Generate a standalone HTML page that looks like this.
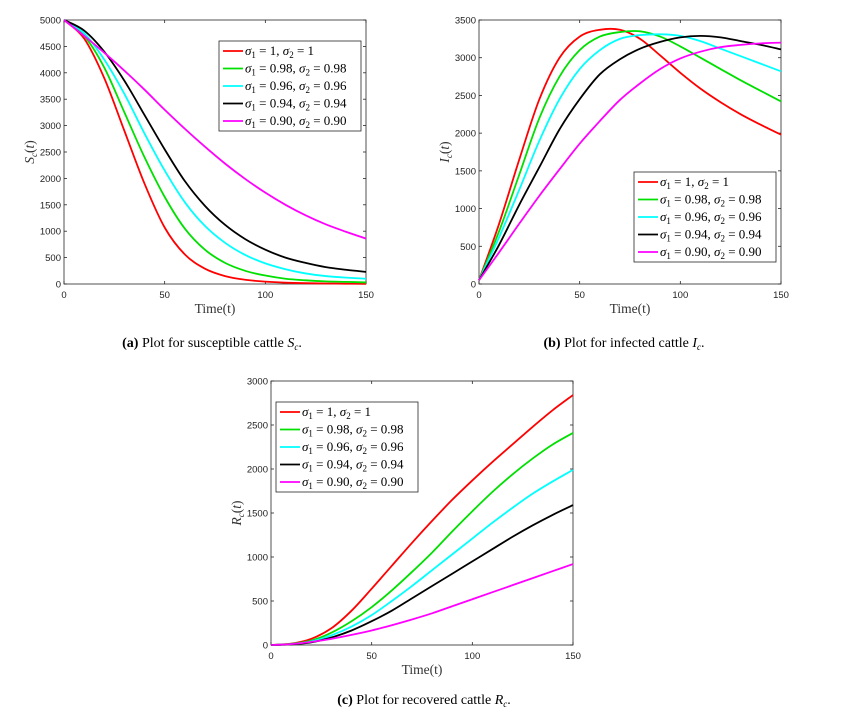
<!DOCTYPE html>
<html><head><meta charset="utf-8"><style>
body{margin:0;background:#fff;width:850px;height:720px;overflow:hidden}
svg{display:block}
.tk{font-family:"Liberation Sans",sans-serif;font-size:9.5px;fill:#222}
.lg{font-family:"Liberation Serif",serif;font-size:13px;fill:#000}
.cap{font-family:"Liberation Serif",serif;font-size:14px;fill:#000}
.ax{font-family:"Liberation Serif",serif;font-size:13.5px;fill:#333}
</style></head><body>
<svg id="root" width="850" height="720"></svg>
<script>
const times=[0,10,20,30,40,50,60,70,80,90,100,110,120,130,140,150];
const seriesNames=["σ1 = 1, σ2 = 1","σ1 = 0.98, σ2 = 0.98","σ1 = 0.96, σ2 = 0.96","σ1 = 0.94, σ2 = 0.94","σ1 = 0.90, σ2 = 0.90"];
const legendVals=[["1","1"],["0.98","0.98"],["0.96","0.96"],["0.94","0.94"],["0.90","0.90"]];
const colors=["#ff0000","#00e000","#00ffff","#000000","#ff00ff"];
const sRed=[5000,4650,3900,2900,1900,1070,560,290,150,80,45,25,15,10,6,4];
const sGreen=[5000,4700,4100,3250,2400,1650,1050,650,400,250,160,100,70,50,40,30];
const sCyan=[5000,4750,4250,3600,2850,2150,1550,1100,780,550,390,280,200,150,120,100];
const sBlack=[5000,4800,4400,3850,3200,2550,1950,1480,1120,850,650,500,400,320,270,230];
const sMag=[5000,4700,4380,4040,3680,3300,2940,2600,2280,1990,1730,1500,1300,1130,990,860];
const iRed=[50,800,1650,2450,3000,3280,3370,3370,3250,3030,2800,2590,2410,2250,2110,1980];
const iGreen=[50,700,1450,2200,2750,3100,3280,3340,3350,3280,3150,3000,2850,2700,2560,2420];
const iCyan=[50,620,1250,1900,2450,2850,3100,3250,3300,3310,3290,3220,3120,3020,2920,2820];
const iBlack=[50,520,1050,1550,2050,2450,2780,2980,3120,3210,3270,3290,3270,3220,3170,3110];
const iMag=[50,420,800,1170,1520,1860,2160,2440,2660,2850,2990,3080,3140,3170,3190,3200];
const rRed=[0,15,70,190,390,640,900,1160,1410,1650,1870,2080,2280,2480,2670,2840];
const rGreen=[0,12,50,140,270,430,620,830,1050,1290,1520,1740,1940,2120,2280,2410];
const rCyan=[0,10,40,110,210,340,500,670,850,1030,1210,1390,1560,1720,1860,1990];
const rBlack=[0,8,30,85,165,270,390,530,670,810,950,1090,1230,1360,1480,1590];
const rMag=[0,10,35,70,115,165,225,290,360,440,520,600,680,760,840,920];
const sTicks=[0,500,1000,1500,2000,2500,3000,3500,4000,4500,5000];
const iTicks=[0,500,1000,1500,2000,2500,3000,3500];
const rTicks=[0,500,1000,1500,2000,2500,3000];
const xTicks=[0,50,100,150];

const NS="http://www.w3.org/2000/svg";
const root=document.getElementById('root');
function mk(tag,attrs,parent){const e=document.createElementNS(NS,tag);for(const k in attrs)e.setAttribute(k,attrs[k]);(parent||root).appendChild(e);return e;}
function pathFrom(pts){let d="M"+pts[0][0]+","+pts[0][1];for(let i=0;i<pts.length-1;i++){const p0=pts[Math.max(i-1,0)],p1=pts[i],p2=pts[i+1],p3=pts[Math.min(i+2,pts.length-1)];
const c1=[p1[0]+(p2[0]-p0[0])/6,p1[1]+(p2[1]-p0[1])/6],c2=[p2[0]-(p3[0]-p1[0])/6,p2[1]-(p3[1]-p1[1])/6];
d+=" C"+c1.join(",")+" "+c2.join(",")+" "+p2.join(",");}return d;}

function plot(cfg){
 const g=mk('g',{});
 
 
 const {x0,x1,y0,y1,ymax}=cfg;
 const sx=t=>x0+(x1-x0)*t/150, sy=v=>y1-(y1-y0)*v/ymax;
 mk('rect',{x:x0,y:y0,width:x1-x0,height:y1-y0,fill:'#fff',stroke:'#262626','stroke-width':0.8},g);
 cfg.yt.forEach(v=>{const y=sy(v);
  mk('line',{x1:x0,x2:x0+3,y1:y,y2:y,stroke:'#262626','stroke-width':0.8},g);
  mk('line',{x1:x1,x2:x1-3,y1:y,y2:y,stroke:'#262626','stroke-width':0.8},g);
  const t=mk('text',{x:x0-3,y:y+3.5,'text-anchor':'end',class:'tk'},g);t.textContent=v;
  
  });
 xTicks.forEach(v=>{const x=sx(v);
  mk('line',{x1:x,x2:x,y1:y1,y2:y1-3,stroke:'#262626','stroke-width':0.8},g);
  mk('line',{x1:x,x2:x,y1:y0,y2:y0+3,stroke:'#262626','stroke-width':0.8},g);
  const t=mk('text',{x:x,y:y1+14,'text-anchor':'middle',class:'tk'},g);t.textContent=v;
  
  });
 cfg.series.forEach((s,i)=>{const p=mk('path',{d:pathFrom(times.map((t,j)=>[sx(t),sy(s[j])])),fill:'none',stroke:colors[i],'stroke-width':1.8},g);
  
  });
 const xl=mk('text',{x:(x0+x1)/2,y:y1+29,'text-anchor':'middle',class:'ax'},g);xl.textContent="Time(t)";
 
 
 const yl=mk('text',{transform:`translate(${x0-30},${(y0+y1)/2}) rotate(-90)`,'text-anchor':'middle',class:'ax'},g);
 yl.innerHTML=`<tspan font-style="italic">${cfg.yl}</tspan><tspan font-size="9" dy="3" font-style="italic">c</tspan><tspan dy="-3">(</tspan><tspan font-style="italic">t</tspan>)`;
 
 
 const L=cfg.leg;
 const lg=mk('g',{},g);
 
 
 mk('rect',{x:L[0],y:L[1],width:142,height:90,fill:'#fff',stroke:'#262626','stroke-width':0.8},lg);
 legendVals.forEach((v,i)=>{const y=L[1]+10+i*17.5;
  mk('line',{x1:L[0]+4,x2:L[0]+24,y1:y,y2:y,stroke:colors[i],'stroke-width':1.8},lg);
  const t=mk('text',{x:L[0]+26,y:y+4,class:'lg'},lg);
  t.innerHTML=`<tspan font-style="italic">σ</tspan><tspan font-size="9" dy="3">1</tspan><tspan dy="-3"> = ${v[0]}, </tspan><tspan font-style="italic">σ</tspan><tspan font-size="9" dy="3">2</tspan><tspan dy="-3"> = ${v[1]}</tspan>`;
  
  });
 const c=mk('text',{x:cfg.cap[0],y:cfg.cap[1],'text-anchor':'middle',class:'cap'},g);
 c.innerHTML=`<tspan font-weight="bold">${cfg.capL}</tspan> ${cfg.capT} <tspan font-style="italic">${cfg.yl}</tspan><tspan font-size="9" dy="3" font-style="italic">c</tspan><tspan dy="-3">.</tspan>`;
 
 
}
plot({name:'plot-susceptible',x0:64,x1:366,y0:20,y1:284,ymax:5000,yt:sTicks,series:[sRed,sGreen,sCyan,sBlack,sMag],leg:[219,41],yl:'S',cap:[212,347],capL:'(a)',capT:'Plot for susceptible cattle'});
plot({name:'plot-infected',x0:479,x1:781,y0:20,y1:284,ymax:3500,yt:iTicks,series:[iRed,iGreen,iCyan,iBlack,iMag],leg:[634,172],yl:'I',cap:[624,347],capL:'(b)',capT:'Plot for infected cattle'});
plot({name:'plot-recovered',x0:271,x1:573,y0:381,y1:645,ymax:3000,yt:rTicks,series:[rRed,rGreen,rCyan,rBlack,rMag],leg:[276,402],yl:'R',cap:[424,704],capL:'(c)',capT:'Plot for recovered cattle'});
</script>
</body></html>
